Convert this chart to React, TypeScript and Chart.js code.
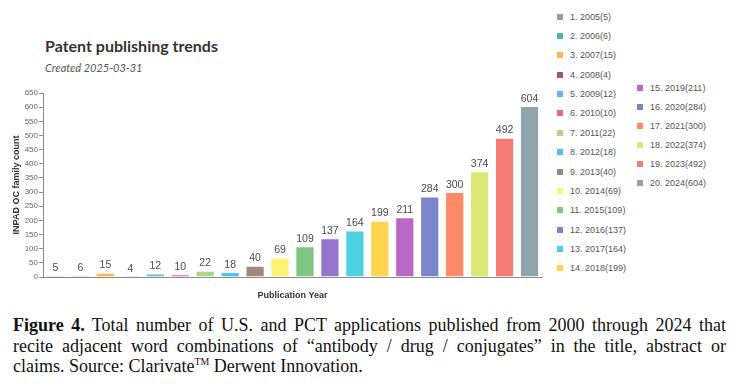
import React, { useEffect, useRef } from "react";
import { Chart, registerables } from "chart.js";

Chart.register(...registerables);

const years = ["2005","2006","2007","2008","2009","2010","2011","2012","2013","2014","2015","2016","2017","2018","2019","2020","2021","2022","2023","2024"];
const counts = [5, 6, 15, 4, 12, 10, 22, 18, 40, 69, 109, 137, 164, 199, 211, 284, 300, 374, 492, 604];
const colors = ["#9E9E9E","#4DB6AC","#FFB74D","#A1527E","#64B5F6","#F06292","#AED581","#4FC3F7","#A1887F","#FFF176","#81C784","#9575CD","#4DD0E1","#FFD54F","#BA68C8","#7986CB","#FF8A65","#DCE775","#F57C73","#90A4AE"];
const yTickMax = 650;
const yTickStep = 50;
const titleText = "Patent publishing trends";
const subtitleText = "Created 2025-03-31";
const yTitle = "INPAD OC family count";
const xTitle = "Publication Year";
const captionLead = "Figure 4.";
const captionLine1 = " Total number of U.S. and PCT applications published from 2000 through 2024 that";
const captionLine2 = "recite adjacent word combinations of “antibody / drug / conjugates” in the title, abstract or";
const captionLine3a = "claims. Source: Clarivate";
const captionLine3b = " Derwent Innovation.";

const valueLabels = {
  id: "valueLabels",
  afterDatasetsDraw(chart: any) {
    const ctx = chart.ctx;
    const meta = chart.getDatasetMeta(0);
    ctx.save();
    ctx.font = "10.5px 'Liberation Sans', Arial, sans-serif";
    ctx.fillStyle = "#4a4a4a";
    ctx.textAlign = "center";
    ctx.textBaseline = "bottom";
    meta.data.forEach((el: any, i: number) => {
      ctx.fillText(String(counts[i]), el.x, el.y - 2);
    });
    ctx.restore();
  },
};

export default function App() {
  const ref = useRef<HTMLCanvasElement>(null);
  useEffect(() => {
    const chart = new Chart(ref.current!, {
      type: "bar",
      data: {
        labels: years,
        datasets: [
          {
            data: counts,
            backgroundColor: colors,
            borderColor: "rgba(255,255,255,0.45)",
            borderWidth: 1,
            barPercentage: 0.77,
            categoryPercentage: 1,
          },
        ],
      },
      options: {
        responsive: false,
        animation: false,
        layout: { padding: { top: 13, right: 13, left: 0, bottom: 0 } },
        plugins: { legend: { display: false }, tooltip: { enabled: false } },
        scales: {
          x: {
            ticks: { display: false },
            grid: { display: false },
            border: { display: true, color: "#8a8a8a", width: 1 },
            title: {
              display: true,
              text: xTitle,
              color: "#333",
              font: { family: "'Liberation Sans', Arial, sans-serif", size: 9, weight: "bold" },
              padding: { top: 0, bottom: 4 },
            },
            afterFit: (axis: any) => {
              axis.height = 28;
            },
          },
          y: {
            min: 0,
            max: yTickMax,
            ticks: {
              stepSize: yTickStep,
              color: "#666",
              padding: 1,
              font: { family: "'Liberation Sans', Arial, sans-serif", size: 8 },
            },
            grid: { display: true, drawOnChartArea: false, drawTicks: true, tickLength: 4, color: "#8a8a8a" },
            border: { display: true, color: "#8a8a8a", width: 1 },
            title: {
              display: true,
              text: yTitle,
              color: "#333",
              font: { family: "'Liberation Sans', Arial, sans-serif", size: 9, weight: "bold" },
              padding: { top: 11, bottom: 0 },
            },
            afterFit: (axis: any) => {
              axis.width = 43;
            },
          },
        },
      },
      plugins: [valueLabels],
    });
    return () => chart.destroy();
  }, []);

  const lineStyle: React.CSSProperties = { height: 20.5, whiteSpace: "nowrap" };
  const justified: React.CSSProperties = { ...lineStyle, textAlign: "justify", textAlignLast: "justify" as any };

  return (
    <div style={{ position: "fixed", left: 0, top: 0, width: 735, height: 389, background: "#fff", overflow: "hidden" }}>
      <div style={{ position: "absolute", left: 45, top: 36, fontFamily: "Lato, sans-serif", fontWeight: 700, fontSize: 16, lineHeight: "20px", color: "#333", whiteSpace: "nowrap" }}>
        {titleText}
      </div>
      <div style={{ position: "absolute", left: 45, top: 61, fontFamily: "Lato, sans-serif", fontStyle: "italic", fontSize: 11, lineHeight: "13px", color: "#555", whiteSpace: "nowrap" }}>
        {subtitleText}
      </div>
      <canvas ref={ref} width={555} height={225} style={{ position: "absolute", left: 0, top: 80, width: 555, height: 225 }} />
      {years.map((y, i) => {
        const col2 = i >= 14;
        const cy = col2 ? 87.7 + (i - 14) * 19.1 : 16.7 + i * 19.35;
        return (
          <div key={y} style={{ position: "absolute", left: col2 ? 637 : 557, top: cy - 6, height: 12, display: "flex", alignItems: "center", whiteSpace: "nowrap" }}>
            <span style={{ display: "inline-block", width: 6, height: 6, background: colors[i], marginRight: 7 }} />
            <span style={{ fontFamily: "'Liberation Sans', Arial, sans-serif", fontSize: 9, color: "#555" }}>
              {`${i + 1}. ${y}(${counts[i]})`}
            </span>
          </div>
        );
      })}
      <div style={{ position: "absolute", left: 13, top: 315, width: 713, fontFamily: "'Liberation Serif', serif", fontSize: 18, lineHeight: "20.5px", color: "#111" }}>
        <div style={justified}><b>{captionLead}</b>{captionLine1}</div>
        <div style={justified}>{captionLine2}</div>
        <div style={lineStyle}>{captionLine3a}<sup style={{ fontSize: "0.55em", lineHeight: 0 }}>TM</sup>{captionLine3b}</div>
      </div>
    </div>
  );
}
